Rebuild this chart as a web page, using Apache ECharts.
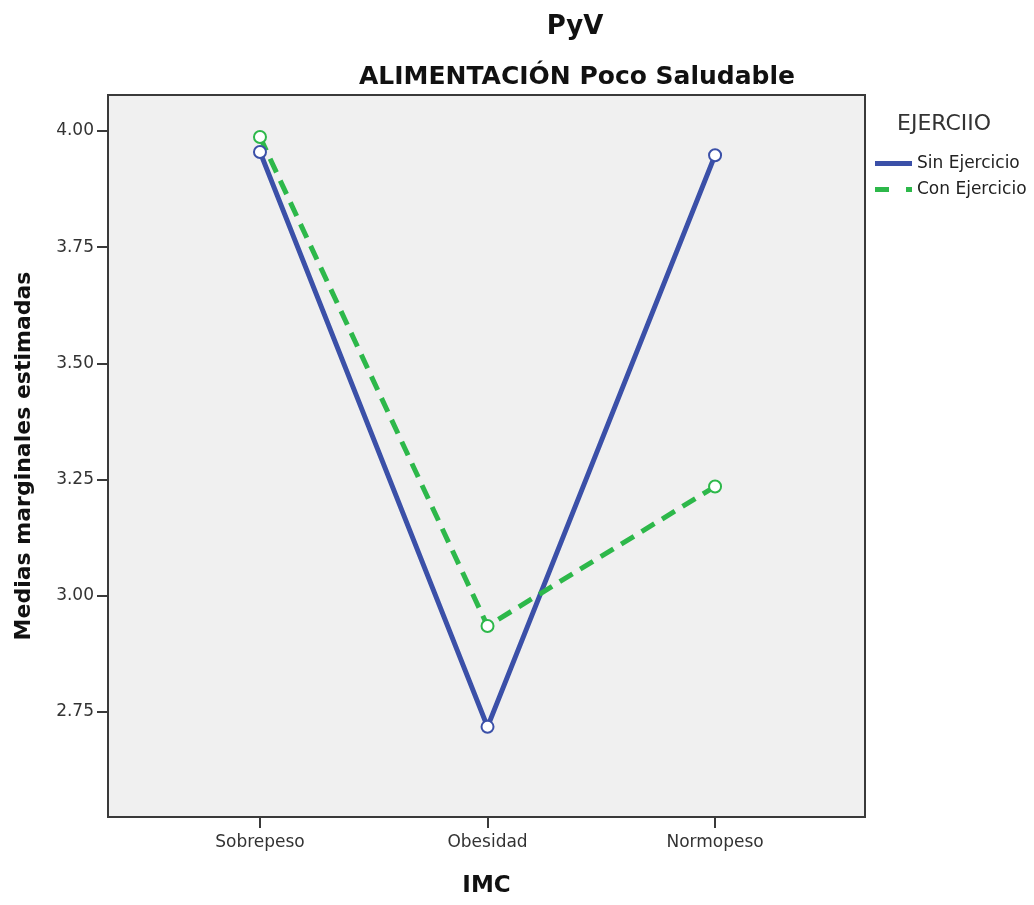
<!DOCTYPE html>
<html>
<head>
<meta charset="utf-8">
<script src="https://cdn.jsdelivr.net/npm/echarts@6/dist/echarts.min.js"></script>
<style>html,body{margin:0;padding:0;background:#fff;}#c{width:1034px;height:905px;}</style>
</head>
<body>
<div id="c"></div>
<script>
var categories = ['Sobrepeso', 'Obesidad', 'Normopeso'];
var sinEjercicio = [3.955, 2.718, 3.948];
var conEjercicio = [3.987, 2.935, 3.235];
var yTicks = [2.75, 3.00, 3.25, 3.50, 3.75, 4.00];

function pairs(vals) { return vals.map(function (v, i) { return [i, v]; }); }

var FONT = 'DejaVu Sans';
var chart = echarts.init(document.getElementById('c'));
chart.setOption({
  backgroundColor: '#fff',
  animation: false,
  title: [
    { text: 'PyV', left: 570, top: 9, textAlign: 'center',
      textStyle: { fontFamily: FONT, fontSize: 26, fontWeight: 'bold', color: '#111' } },
    { text: 'ALIMENTACIÓN Poco Saludable', left: 572, top: 60, textAlign: 'center',
      textStyle: { fontFamily: FONT, fontSize: 25, fontWeight: 'bold', color: '#111' } },
    { text: 'EJERCIIO', left: 892, top: 108,
      textStyle: { fontFamily: FONT, fontSize: 22, fontWeight: 'normal', color: '#333' } }
  ],
  legend: {
    orient: 'vertical',
    left: 870, top: 150,
    itemWidth: 37, itemHeight: 5, itemGap: 9,
    itemStyle: { borderWidth: 0 },
    textStyle: { fontFamily: FONT, fontSize: 17, color: '#222' },
    data: [
      { name: 'Sin Ejercicio', icon: 'path://M0,0H37V5H0Z' },
      { name: 'Con Ejercicio', icon: 'path://M0,0H14V5H0Z M31,0H37V5H31Z' }
    ]
  },
  grid: {
    left: 108, top: 95, right: 169, bottom: 88,
    show: true, backgroundColor: '#f0f0f0', borderColor: '#3a3a3a', borderWidth: 2
  },
  xAxis: {
    type: 'value', min: -0.668, max: 2.659,
    name: 'IMC', nameLocation: 'middle', nameGap: 58,
    nameTextStyle: { fontFamily: FONT, fontSize: 23, fontWeight: 'bold', color: '#111' },
    axisLine: { show: true, onZero: false, lineStyle: { color: '#3a3a3a', width: 2 } },
    axisTick: { show: true, customValues: [0, 1, 2], length: 11, lineStyle: { color: '#3a3a3a', width: 2 } },
    axisLabel: { customValues: [0, 1, 2], margin: 17, fontFamily: FONT, fontSize: 17, color: '#333',
      formatter: function (v) { return categories[Math.round(v)]; } },
    splitLine: { show: false }
  },
  yAxis: {
    type: 'value', min: 2.524, max: 4.0775,
    name: 'Medias marginales estimadas', nameLocation: 'middle', nameGap: 73, nameRotate: 90,
    nameTextStyle: { fontFamily: FONT, fontSize: 22, fontWeight: 'bold', color: '#111' },
    axisLine: { show: true, onZero: false, lineStyle: { color: '#3a3a3a', width: 2 } },
    axisTick: { show: true, customValues: yTicks, length: 11, lineStyle: { color: '#3a3a3a', width: 2 } },
    axisLabel: { customValues: yTicks, margin: 14, fontFamily: FONT, fontSize: 17, color: '#333',
      padding: [8, 0, 0, 0],
      formatter: function (v) { return v.toFixed(2); } },
    splitLine: { show: false }
  },
  series: [
    { name: 'Sin Ejercicio', type: 'line', data: pairs(sinEjercicio),
      symbol: 'emptyCircle', symbolSize: 12,
      lineStyle: { color: '#3b50a8', width: 5 },
      itemStyle: { color: '#3b50a8', borderColor: '#6f7fc6', borderWidth: 1.5 } },
    { name: 'Con Ejercicio', type: 'line', data: pairs(conEjercicio),
      symbol: 'emptyCircle', symbolSize: 12,
      lineStyle: { color: '#2db84a', width: 5, type: [15, 9] },
      itemStyle: { color: '#2db84a', borderColor: '#3cc35a', borderWidth: 1.5 } }
  ]
});
</script>
</body>
</html>
